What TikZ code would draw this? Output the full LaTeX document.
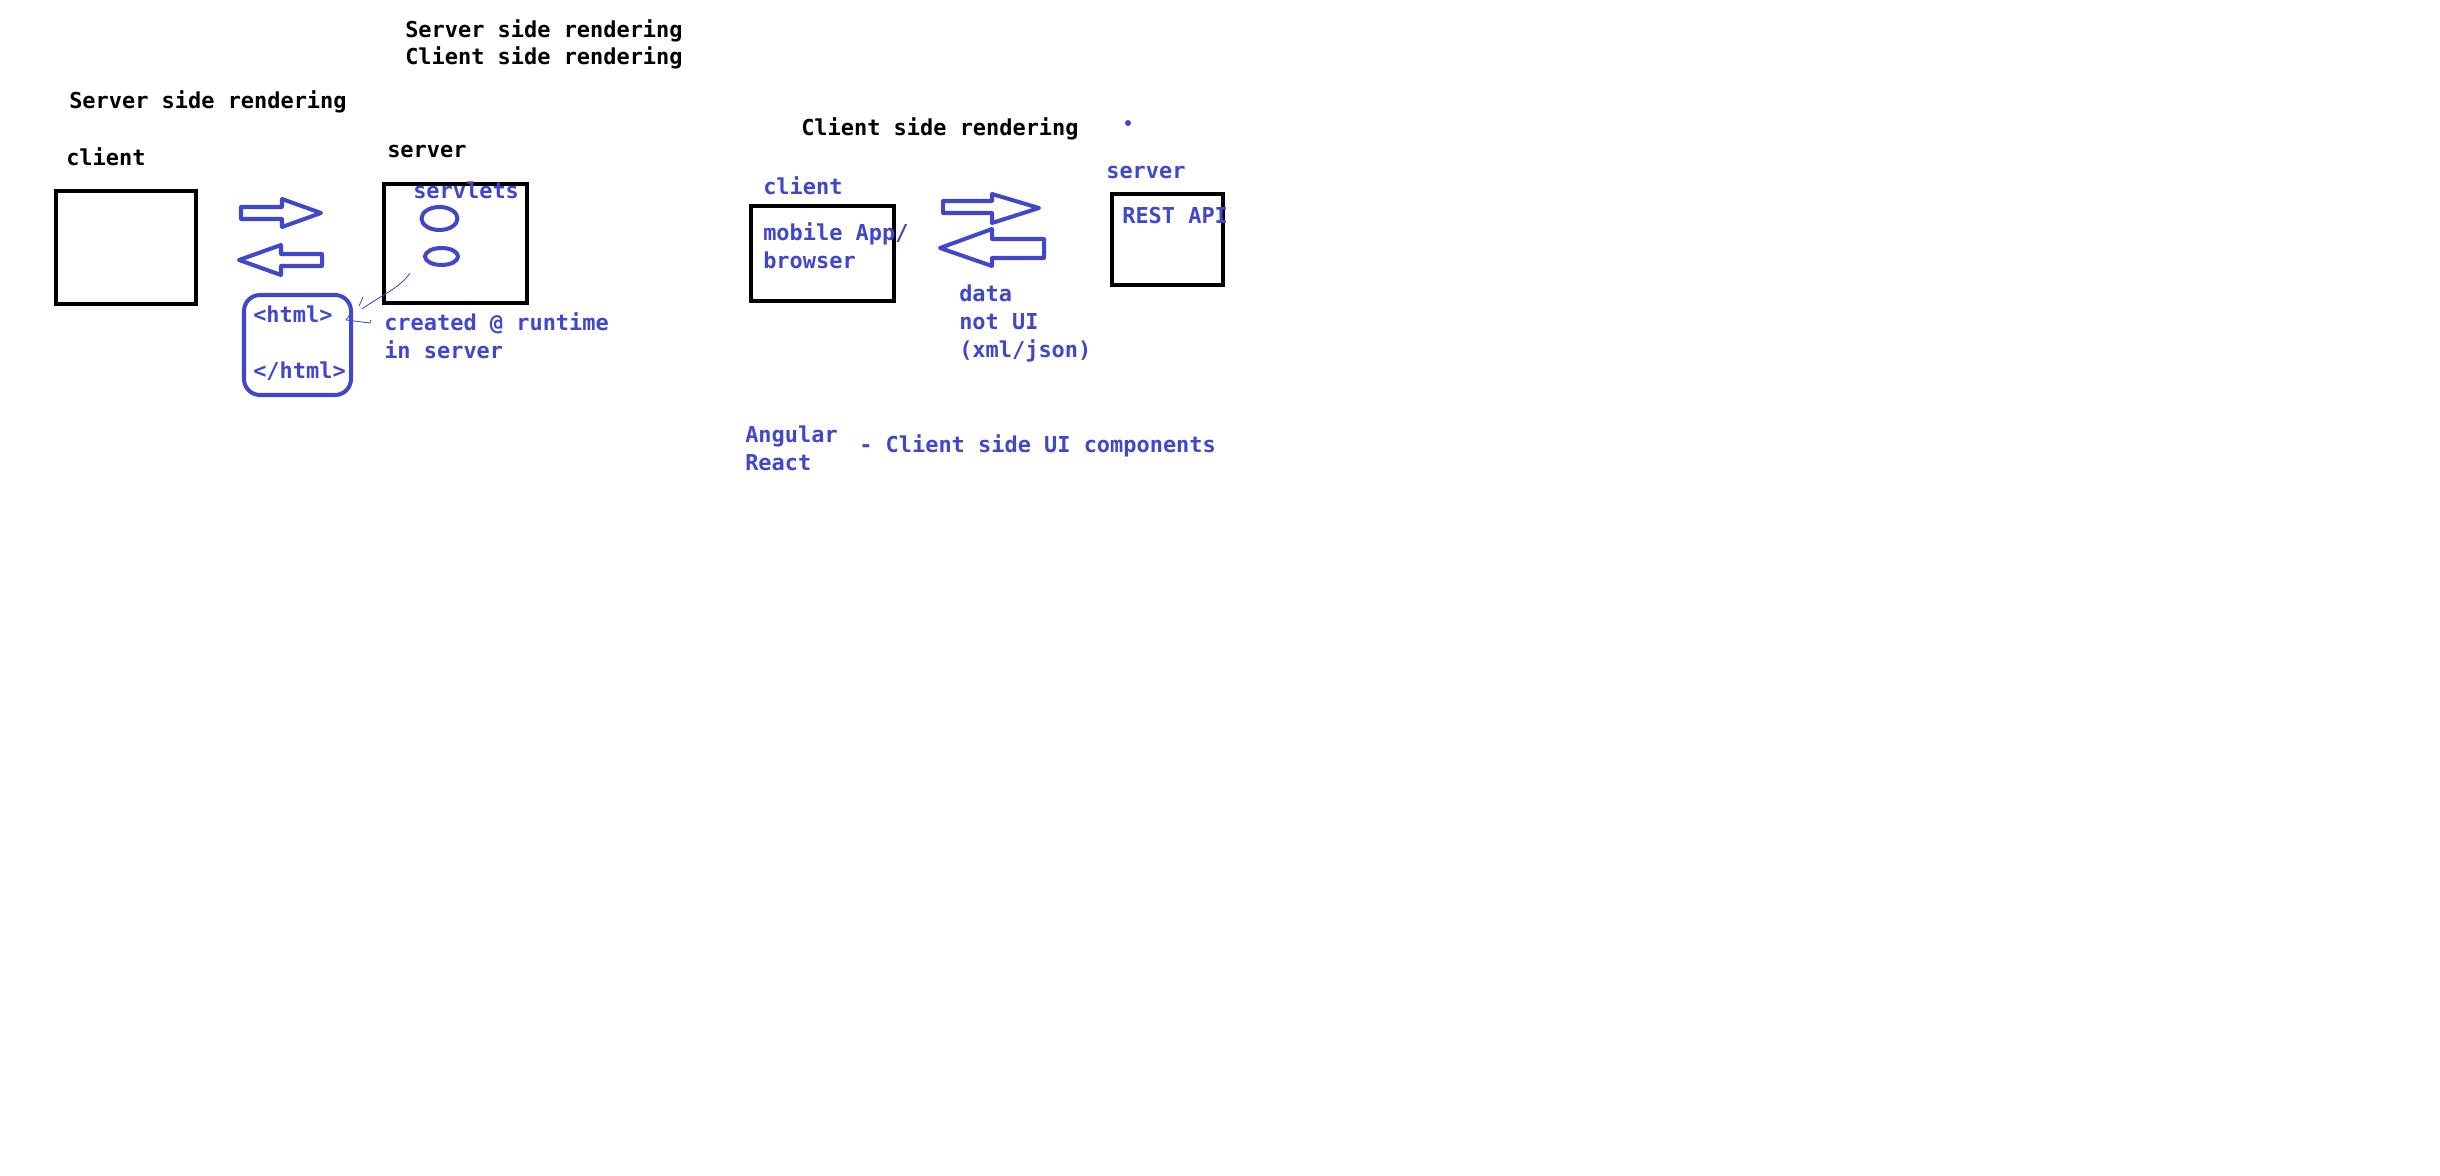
\documentclass[tikz,border=0pt]{standalone}
\usepackage{fontspec}
\setmonofont{DejaVu Sans Mono}
\definecolor{paintblue}{RGB}{63,72,204}
\tikzset{
  txt/.style={anchor=base west, inner sep=0pt, font=\fontsize{15.6pt}{19.9pt}\ttfamily\bfseries},
  bluetxt/.style={txt, text=paintblue},
  blackbox/.style={draw=black, line width=3.2pt},
  bluebox/.style={draw=paintblue, line width=2.85pt, line join=round},
  scribble/.style={draw=paintblue, line width=0.6pt},
}
\begin{document}
\begin{tikzpicture}[x=0.025cm, y=-0.025cm]
    \useasboundingbox (0,0) rectangle (2440,1176);
    \node[txt] (title1) at (405,38) {Server side rendering};
    \node[txt] (title2) at (405,65) {Client side rendering};
    % server side rendering
    \node[txt] (ssr) at (69,108) {Server side rendering};
    \node[txt] (sclient) at (66,165) {client};
    \node[txt] (sserver) at (387,157) {server};
    \draw[blackbox] (56,191) rectangle (196,304);
    \draw[blackbox] (384,184) rectangle (527,303);
    \node[bluetxt] (servlets) at (413,198) {servlets};
    \draw[bluebox] (439.5,218.5) ellipse [x radius=18, y radius=11.5];
    \draw[bluebox] (441.5,256.5) ellipse [x radius=16.5, y radius=8.5];
    \draw[bluebox] (241,207) -- (282,207) -- (282,199) -- (321,213) -- (282,227) -- (282,219) -- (241,219) -- cycle;
    \draw[bluebox] (322,254) -- (281,254) -- (281,245) -- (239,260) -- (281,275) -- (281,266) -- (322,266) -- cycle;
    \draw[bluebox, rounded corners=0.4cm] (244,295) rectangle (351,395);
    \node[bluetxt] (htmlopen) at (253,322) {<html>};
    \node[bluetxt] (htmlclose) at (253,378) {</html>};
    \node[bluetxt] (created) at (384,330) {created @ runtime};
    \node[bluetxt] (inserver) at (384,358) {in server};
    \coordinate (scribtop) at (410,273);
    \coordinate (scribend) at (362,309);
    \draw[scribble] (scribtop) .. controls (400,288) and (380,296) .. (scribend);
    \draw[scribble] (363,297) -- (359,306);
    \draw[scribble] (351,313) -- (346,320) -- (370,323) -- (371,320);
    % client side rendering
    \node[txt] (csr) at (801,136) {Client side rendering};
    \fill[paintblue] (1128,123) circle [radius=3];
    \node[bluetxt] (cclient) at (763,194) {client};
    \draw[blackbox] (751,206) rectangle (894,301);
    \node[bluetxt] (mobile) at (763,240) {mobile App/};
    \node[bluetxt] (browser) at (763,268) {browser};
    \draw[bluebox] (943,201) -- (992,201) -- (992,194) -- (1039,208) -- (992,223) -- (992,213) -- (943,213) -- cycle;
    \draw[bluebox] (1044,239) -- (992,239) -- (992,229) -- (940,248) -- (992,266) -- (992,258) -- (1044,258) -- cycle;
    \node[bluetxt] (data) at (959,301) {data};
    \node[bluetxt] (notui) at (959,329) {not UI};
    \node[bluetxt] (xmljson) at (959,357) {(xml/json)};
    \node[bluetxt] (cserver) at (1106,178) {server};
    \draw[blackbox] (1112,194) rectangle (1223,285);
    \node[bluetxt] (restapi) at (1122,223) {REST API};
    \node[bluetxt] (angular) at (745,442) {Angular};
    \node[bluetxt] (react) at (745,470) {React};
    \node[bluetxt] (csui) at (859,452) {- Client side UI components};
\end{tikzpicture}
\end{document}
